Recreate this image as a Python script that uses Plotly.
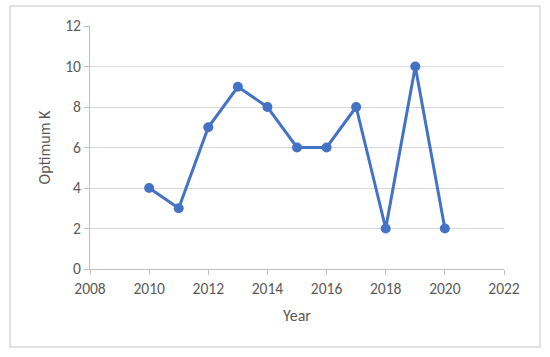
import plotly.graph_objects as go

years = [2010, 2011, 2012, 2013, 2014, 2015, 2016, 2017, 2018, 2019, 2020]
optimum_k = [4, 3, 7, 9, 8, 6, 6, 8, 2, 10, 2]
x_ticks = [2008, 2010, 2012, 2014, 2016, 2018, 2020, 2022]
y_ticks = [0, 2, 4, 6, 8, 10, 12]

font_family = "Carlito, Calibri, Lato, sans-serif"
gray = "#595959"

fig = go.Figure(go.Scatter(
    x=years, y=optimum_k, mode="lines+markers",
    line=dict(color="#4472C4", width=3),
    marker=dict(color="#4472C4", size=10),
    hoverinfo="skip",
))

W, H = 550, 357
L, R, T, B = 90, 46, 26, 88
pw, ph = W - L - R, H - T - B

fig.update_layout(
    width=W, height=H,
    margin=dict(l=L, r=R, t=T, b=B),
    paper_bgcolor="white", plot_bgcolor="white",
    showlegend=False,
    font=dict(family=font_family, color=gray, size=15.5),
    shapes=[dict(type="rect", xref="paper", yref="paper",
                 x0=(10 - L) / pw, x1=(540 - L) / pw,
                 y0=(H - B - 347) / ph, y1=(H - B - 6) / ph,
                 line=dict(color="#D9D9D9", width=1.5))],
)
fig.update_xaxes(
    range=[2008, 2022], tickvals=x_ticks, showgrid=False,
    showline=True, linecolor="#BFBFBF", linewidth=1,
    ticks="outside", ticklen=5, tickcolor="#BFBFBF",
    title=dict(text="Year", font=dict(size=16, color=gray), standoff=13),
    zeroline=False,
)
fig.update_yaxes(
    range=[0, 12], tickvals=y_ticks, showgrid=True, gridcolor="#D9D9D9",
    showline=True, linecolor="#BFBFBF", linewidth=1,
    ticks="outside", ticklen=5, tickcolor="#BFBFBF",
    title=dict(text="Optimum K", font=dict(size=16, color=gray), standoff=10),
    zeroline=False,
)

fig.write_html("out.html", config={"displayModeBar": False},
               post_script="document.body.style.margin='0';")
